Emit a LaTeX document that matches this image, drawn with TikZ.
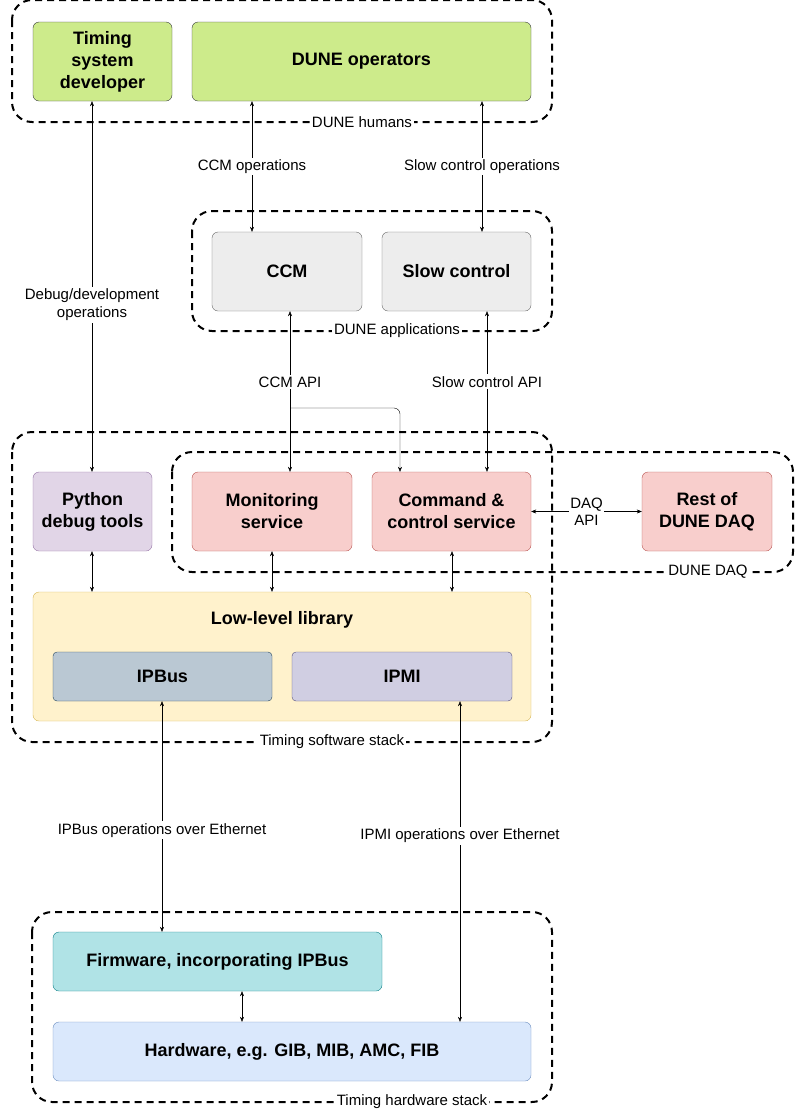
\documentclass[tikz,border=0pt]{standalone}
\usepackage{fontspec}
\setmainfont{Liberation Sans}
\usetikzlibrary{arrows.meta}
\begin{document}
\begin{tikzpicture}[x=1pt,y=-1pt,
 box/.style={draw,rounded corners=6pt,align=center,font=\fontsize{18}{22}\selectfont\bfseries,inner sep=0pt},
 grp/.style={draw,line width=2pt,dash pattern=on 7pt off 5pt,rounded corners=20pt},
 glab/.style={fill=white,font=\fontsize{15}{18}\selectfont,inner sep=2pt},
 lab/.style={fill=white,font=\fontsize{15}{18}\selectfont,align=center,inner sep=2pt},
 arr/.style={{Stealth[length=5pt,width=4pt]}-{Stealth[length=5pt,width=4pt]}},
 arr1/.style={-{Stealth[length=5pt,width=4pt]}}]
\useasboundingbox (0,0) rectangle (795,1112);
\definecolor{gf}{HTML}{CDEB8B}\definecolor{gd}{HTML}{36393D}
\definecolor{rf}{HTML}{F8CECC}\definecolor{rd}{HTML}{B85450}
% groups
\draw[grp] (12,0) rectangle (552,122); \node[glab] (gh) at (362,122) {DUNE humans};
\draw[grp] (192,211) rectangle (552,331); \node[glab] (ga) at (397,331) {DUNE applications};
\draw[grp] (12,432) rectangle (552,742); \node[glab] (gs) at (332,742) {Timing software stack};
\draw[grp] (172,452) rectangle (793,572); \node[glab] (gd) at (708,572) {DUNE DAQ};
\draw[grp] (32,912) rectangle (552,1102); \node[glab] (gw) at (412,1102) {Timing hardware stack};
% nodes
\node[box,fill=gf,draw=gd,minimum width=139,minimum height=79] (dev) at (102.5,61.5) {Timing\\system\\developer};
\node[box,fill=gf,draw=gd,minimum width=339,minimum height=79] (ops) at (361.5,61.5) {DUNE operators};
\node[box,fill=black!7,draw=black!60,minimum width=150,minimum height=79] (ccm) at (287,271.5) {CCM};
\node[box,fill=black!7,draw=black!60,minimum width=149,minimum height=79] (sc) at (456.5,271.5) {Slow control};
\node[box,fill={rgb,255:red,225;green,213;blue,231},draw={rgb,255:red,150;green,115;blue,166},minimum width=119,minimum height=79] (py) at (92.5,511.5) {Python\\debug tools};
\node[box,fill=rf,draw=rd,minimum width=160,minimum height=79] (mon) at (272,511.5) {Monitoring\\service};
\node[box,fill=rf,draw=rd,minimum width=159,minimum height=79] (cmd) at (451.5,511.5) {Command \&\\control service};
\node[box,fill=rf,draw=rd,minimum width=130,minimum height=79] (rest) at (707,511.5) {Rest of\\DUNE DAQ};
\node[box,fill={rgb,255:red,255;green,242;blue,204},draw={rgb,255:red,214;green,182;blue,86},minimum width=498,minimum height=129] (lll) at (282,656.5) {};
\node[font=\fontsize{18}{22}\selectfont\bfseries] (lllt) at (282,620) {Low-level library};
\node[box,fill={rgb,255:red,186;green,200;blue,211},draw={rgb,255:red,35;green,68;blue,93},minimum width=219,minimum height=49,rounded corners=4pt] (ipb) at (162.5,676.5) {IPBus};
\node[box,fill={rgb,255:red,208;green,206;blue,226},draw={rgb,255:red,86;green,81;blue,126},minimum width=220,minimum height=49,rounded corners=4pt] (ipmi) at (402,676.5) {IPMI};
\node[box,fill={rgb,255:red,176;green,227;blue,230},draw={rgb,255:red,14;green,128;blue,136},minimum width=329,minimum height=59] (fw) at (217.5,961.5) {Firmware, incorporating IPBus};
\node[box,fill={rgb,255:red,218;green,232;blue,252},draw={rgb,255:red,108;green,142;blue,191},minimum width=478,minimum height=59] (hw) at (292,1051.5) {Hardware, e.g. GIB, MIB, AMC, FIB};
% x coordinates
\coordinate (x92) at (92,0); \coordinate (x252) at (252,0); \coordinate (x482) at (482,0);
\coordinate (x290) at (290,0); \coordinate (x487) at (487,0); \coordinate (x400) at (400,0);
\coordinate (x272) at (272,0); \coordinate (x452) at (452,0); \coordinate (x162) at (162,0);
\coordinate (x460) at (460,0); \coordinate (x242) at (242,0);
\coordinate (br) at (290,408);
% arrows
\draw[arr] (dev.south -| x92) -- (py.north -| x92) node[lab,pos=0.55] (l1) {Debug/development\\operations};
\draw[arr] (ops.south -| x252) -- (ccm.north -| x252) node[lab,midway] (l2) {CCM operations};
\draw[arr] (ops.south -| x482) -- (sc.north -| x482) node[lab,midway] (l3) {Slow control operations};
\draw[arr] (ccm.south -| x290) -- (mon.north -| x290) node[lab,pos=0.44] (l4) {CCM API};
\draw[arr] (sc.south -| x487) -- (cmd.north -| x487) node[lab,pos=0.44] (l5) {Slow control API};
\draw[arr1,rounded corners=6pt] (br) -- (400,408) -- (cmd.north -| x400);
\draw[arr] (cmd.east) -- (rest.west) node[lab,midway,inner sep=1pt,font=\fontsize{15}{17}\selectfont] (l6) {DAQ\\API};
\draw[arr] (py.south -| x92) -- (lll.north -| x92);
\draw[arr] (mon.south -| x272) -- (lll.north -| x272);
\draw[arr] (cmd.south -| x452) -- (lll.north -| x452);
\draw[arr] (ipb.south -| x162) -- (fw.north -| x162) node[lab,pos=0.56] (l7) {IPBus operations over Ethernet};
\draw[arr] (ipmi.south -| x460) -- (hw.north -| x460) node[lab,pos=0.42] (l8) {IPMI operations over Ethernet};
\draw[arr] (fw.south -| x242) -- (hw.north -| x242);
\end{tikzpicture}
\end{document}
